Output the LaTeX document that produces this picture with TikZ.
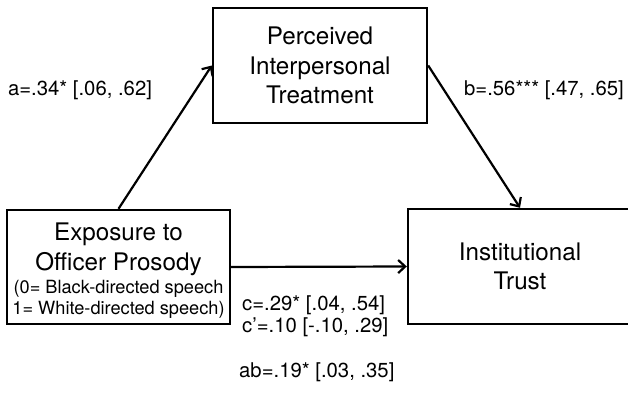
\documentclass[tikz,border=0pt]{standalone}
\usepackage{fontspec}
\setmainfont{TeX Gyre Heros}
\usetikzlibrary{arrows.meta}
\tikzset{
  box/.style={draw, line width=2.4pt, inner sep=0pt, align=center},
  conn/.style={line width=2.2pt, -{Straight Barb[length=7pt,width=13pt,line width=2.2pt]}},
  lab/.style={inner sep=0pt, font=\fontsize{20.3}{22}\selectfont},
  bigtext/.style={font=\fontsize{24.2}{29.5}\selectfont}
}
\newcommand{\bigline}{\fontsize{24.2}{29}\selectfont}
\newcommand{\smallline}{\fontsize{18.2}{21}\selectfont}
\begin{document}
\begin{tikzpicture}[x=1pt,y=-1pt]
\clip (0,0) rectangle (628,396);
\fill[white] (0,0) rectangle (628,396);
\node[box, bigtext, minimum width=214pt, minimum height=115pt] (P) at (320,65.5) {Perceived\\Interpersonal\\Treatment};
\node[box, minimum width=223pt, minimum height=114pt] (L) at (118.5,267) {};
\node[inner sep=0pt, align=center, font=\smallline] (Ltext) at (118.5,271)
  {\bigline Exposure to\\[5.5pt]\bigline Officer Prosody\\[2pt]
   \smallline (0= Black-directed speech\\\smallline 1= White-directed speech)};
\node[box, bigtext, minimum width=224pt, minimum height=115pt] (T) at (520,266.5) {Institutional\\Trust};
\draw[conn] (L.north) -- (P.west);
\draw[conn] (P.east) -- (T.north);
\draw[conn] (L.east) -- (T.west);
\node[lab] (la) at (80,90) {a=.34* [.06, .62]};
\node[lab] (lb) at (544,90) {b=.56*** [.47, .65]};
\node[lab, anchor=west] (lc) at (242,305) {c=.29* [.04, .54]};
\node[lab, anchor=west] (lcp) at (242,327) {c’=.10 [-.10, .29]};
\node[lab, anchor=west] (lab) at (239,372) {ab=.19* [.03, .35]};
\end{tikzpicture}
\end{document}
